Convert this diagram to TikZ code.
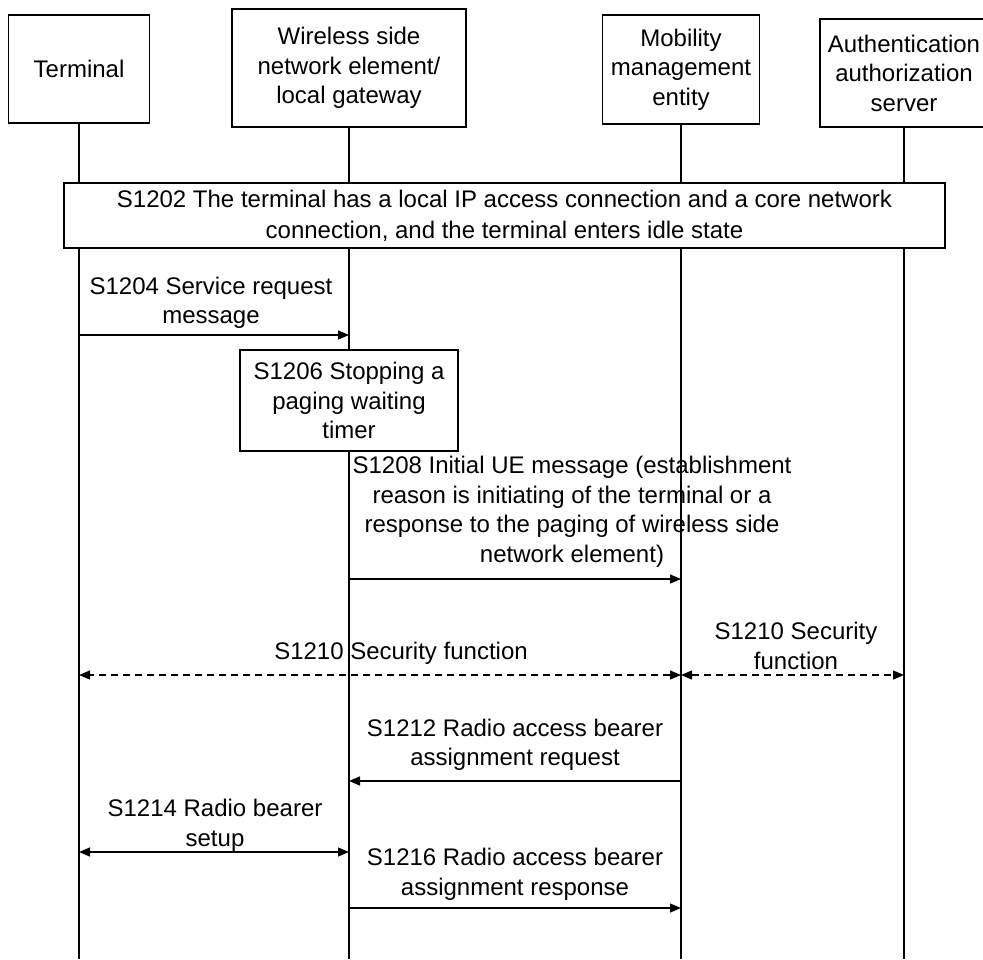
\documentclass[tikz,border=0pt]{standalone}
\usepackage{fontspec}
\setmainfont{Liberation Sans}
\usetikzlibrary{arrows.meta}
\begin{document}
\begin{tikzpicture}[x=1pt,y=-1pt,
  every node/.style={font=\fontsize{24}{29.5}\selectfont, align=center, inner sep=0pt},
  box/.style={draw, line width=1.3pt, fill=white},
  life/.style={line width=1.3pt},
  tipA/.tip={Triangle[length=11pt,width=9pt]},
  msg/.style={line width=1.3pt, -tipA},
  bimsg/.style={line width=1.3pt, tipA-tipA},
  dmsg/.style={line width=1.3pt, tipA-tipA, dash pattern=on 7pt off 5pt}
]
\useasboundingbox (0,0) rectangle (983,959);
% actor boxes
\node[box, minimum width=141pt, minimum height=108pt] (term) at (79,69) {Terminal};
\node[box, minimum width=234pt, minimum height=118pt] (wsn) at (349,68) {Wireless side\\network element/\\local gateway};
\node[box, minimum width=157pt, minimum height=109pt] (mme) at (681,69.5) {Mobility\\management\\entity};
\node[box, minimum width=168pt, minimum height=108pt] (aaa) at (904,73) {Authentication\\authorization\\server};
% lifeline ends
\coordinate (termEnd) at (79,959);
\coordinate (wsnEnd) at (349,959);
\coordinate (mmeEnd) at (681,959);
\coordinate (aaaEnd) at (904,959);
\draw[life] (term.south) -- (termEnd);
\draw[life] (wsn.south) -- (wsnEnd);
\draw[life] (mme.south) -- (mmeEnd);
\draw[life] (aaa.south) -- (aaaEnd);
% S1202
\node[box, minimum width=881pt, minimum height=65pt, font=\fontsize{24}{31}\selectfont] (s1202) at (504.5,215.5)
  {S1202 The terminal has a local IP access connection and a core network\\connection, and the terminal enters idle state};
% S1204
\coordinate (a1) at (79,335);
\coordinate (b1) at (349,335);
\draw[msg] (a1) -- (b1);
\node (l1204) at (211,303) {S1204 Service request\\message};
% S1206
\node[box, minimum width=218pt, minimum height=101pt] (s1206) at (349,400.5)
  {S1206 Stopping a\\paging waiting\\timer};
% S1208
\coordinate (a2) at (349,579);
\coordinate (b2) at (681,579);
\draw[msg] (a2) -- (b2);
\node (l1208) at (572,512) {S1208 Initial UE message (establishment\\reason is initiating of the terminal or a\\response to the paging of wireless side\\network element)};
% S1210
\coordinate (a3) at (79,675);
\coordinate (b3) at (681,675);
\coordinate (c3) at (904,675);
\draw[dmsg] (b3) -- (a3);
\draw[dmsg] (b3) -- (c3);
\node (l1210a) at (401,653) {S1210 Security function};
\node (l1210b) at (796,646) {S1210 Security\\function};
% S1212
\coordinate (a4) at (681,781);
\coordinate (b4) at (349,781);
\draw[msg] (a4) -- (b4);
\node (l1212) at (515,745) {S1212 Radio access bearer\\assignment request};
% S1214
\coordinate (a5) at (79,852);
\coordinate (b5) at (349,852);
\draw[bimsg] (a5) -- (b5);
\node (l1214) at (215,825.5) {S1214 Radio bearer\\setup};
% S1216
\coordinate (a6) at (349,908);
\coordinate (b6) at (681,908);
\draw[msg] (a6) -- (b6);
\node (l1216) at (515,874.5) {S1216 Radio access bearer\\assignment response};
\end{tikzpicture}
\end{document}
